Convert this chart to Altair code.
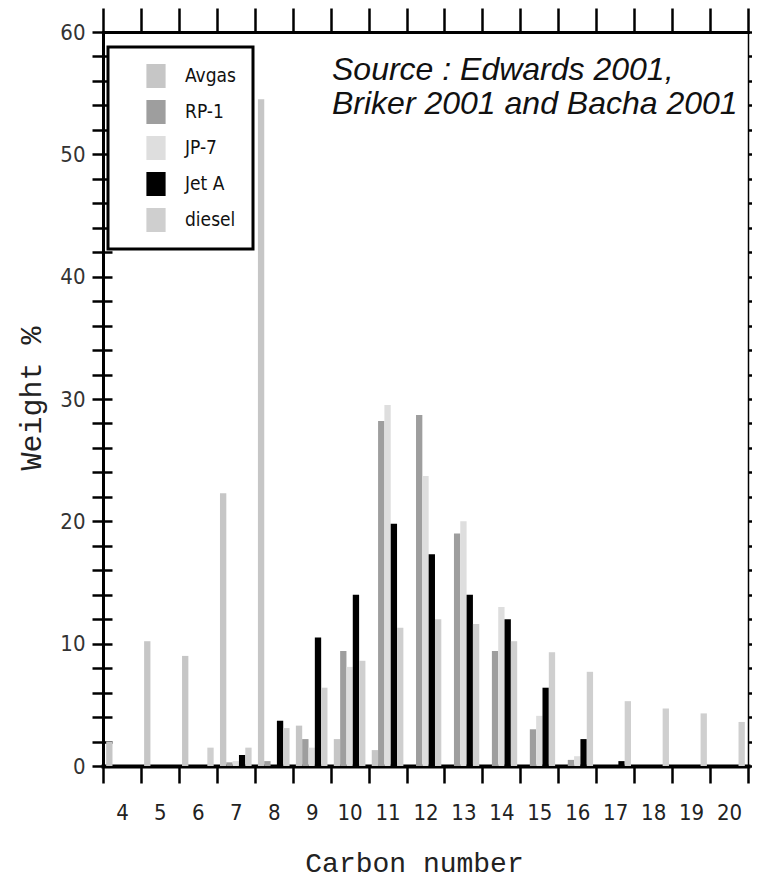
import altair as alt
import pandas as pd

carbon = [4, 5, 6, 7, 8, 9, 10, 11, 12, 13, 14, 15, 16, 17, 18, 19, 20]
fuels = ["Avgas", "RP-1", "JP-7", "Jet A", "diesel"]
avgas = [2.0, 10.2, 9.0, 22.3, 54.5, 3.3, 2.2, 1.3, 0, 0, 0, 0, 0, 0, 0, 0, 0]
rp1 = [0, 0, 0, 0.3, 0.4, 2.2, 9.4, 28.2, 28.7, 19.0, 9.4, 3.0, 0.5, 0, 0, 0, 0]
jp7 = [0, 0, 0, 0.4, 0, 1.5, 8.1, 29.5, 23.7, 20.0, 13.0, 4.1, 0.8, 0, 0, 0, 0]
jeta = [0, 0, 0, 0.9, 3.7, 10.5, 14.0, 19.8, 17.3, 14.0, 12.0, 6.4, 2.2, 0.4, 0, 0, 0]
diesel = [0, 0, 1.5, 1.5, 3.1, 6.4, 8.6, 11.3, 12.0, 11.6, 10.2, 9.3, 7.7, 5.3, 4.7, 4.3, 3.6]
colors = ["#c6c6c6", "#9e9e9e", "#dedede", "#000000", "#cfcfcf"]
y_ticks = list(range(0, 61, 2))
source_lines = ["Source : Edwards 2001,", "Briker 2001 and Bacha 2001"]

series = {"Avgas": avgas, "RP-1": rp1, "JP-7": jp7, "Jet A": jeta, "diesel": diesel}
rows = []
for f in fuels:
    for c, v in zip(carbon, series[f]):
        rows.append({"carbon": c, "fuel": f, "weight": v})
df = pd.DataFrame(rows)

narrow = "Liberation Sans Narrow, DejaVu Sans Condensed, Arial Narrow, sans-serif"
mono = "Liberation Mono, Courier New, monospace"

xscale = alt.Scale(paddingInner=0, paddingOuter=0)
yscale = alt.Scale(domain=[0, 60], nice=False)

bars = alt.Chart(df).mark_bar().encode(
    x=alt.X("carbon:O", sort=carbon, scale=xscale,
            axis=alt.Axis(orient="bottom", tickBand="extent", grid=False, tickSize=17, tickWidth=2.5,
                          tickColor="black", domainWidth=4, domainColor="black", domainCap="square",
                          labelAngle=0, labelFont=narrow, labelFontSize=22, labelColor="#222",
                          labelPadding=19, title="Carbon number", titleFont=mono,
                          titleFontSize=28, titleFontWeight="normal", titleColor="#222",
                          titleX=311, titleY=105, titleBaseline="alphabetic", titleAlign="center")),
    xOffset=alt.XOffset("fuel:N", sort=fuels, scale=alt.Scale(paddingInner=0, paddingOuter=0.5)),
    y=alt.Y("weight:Q", scale=yscale,
            axis=alt.Axis(orient="left", values=y_ticks, grid=False, tickSize=11, tickWidth=2.5,
                          tickColor="black", domainWidth=3, domainColor="black", domainCap="square",
                          labelExpr="datum.value % 10 === 0 ? datum.label : ''",
                          labelOverlap=False,
                          labelFont=narrow, labelFontSize=22, labelColor="#333", labelPadding=7,
                          title="Weight %", titleFont=mono, titleFontSize=30,
                          titleFontWeight="normal", titleColor="#222", titleAngle=270,
                          titleX=-63, titleY=366, titleBaseline="alphabetic", titleAlign="center")),
    color=alt.Color("fuel:N", sort=fuels, scale=alt.Scale(domain=fuels, range=colors),
                    legend=alt.Legend(title=None, orient="none", legendX=5, legendY=15,
                                      strokeColor="black", padding=17, fillColor="white",
                                      symbolType="M-0.8,-1H0.8V1H-0.8Z", symbolSize=576,
                                      symbolStrokeWidth=0, symbolOffset=19, labelOffset=17,
                                      rowPadding=12, labelFont=narrow, labelFontSize=19,
                                      labelColor="#111")),
)

frame_top = alt.Chart(df).mark_bar(opacity=0).encode(
    x=alt.X("carbon:O", sort=carbon, scale=xscale,
            axis=alt.Axis(orient="top", tickBand="extent", grid=False, labels=False, tickSize=24,
                          tickWidth=2.5, tickColor="black", domainWidth=3, domainColor="black",
                          domainCap="square", title=None)),
    y=alt.Y("weight:Q", scale=yscale,
            axis=alt.Axis(orient="left", offset=-9, values=y_ticks, grid=False, tickSize=9,
                          tickWidth=2.5, tickColor="black", domain=False, labels=False, title=None)),
)

frame_right = alt.Chart(df).mark_bar(opacity=0).encode(
    x=alt.X("carbon:O", sort=carbon, scale=xscale, axis=None),
    y=alt.Y("weight:Q", scale=yscale,
            axis=alt.Axis(orient="right", values=y_ticks, grid=False, tickSize=6, tickWidth=2.5,
                          tickColor="black", domainWidth=1.5, domainColor="black",
                          labels=False, title=None)),
)

note = alt.Chart(pd.DataFrame({"t": [0]})).mark_text(
    text=source_lines, font="Liberation Sans, Arial, sans-serif", fontStyle="italic",
    fontSize=32, lineHeight=34, align="left", baseline="alphabetic", color="#111",
).encode(x=alt.value(229), y=alt.value(48))

chart = alt.layer(bars, frame_top, frame_right, note).resolve_axis(
    x="independent", y="independent"
).properties(
    width=645, height=734,
    autosize=alt.AutoSizeParams(type="none"),
    padding={"left": 95, "top": 24, "right": 4, "bottom": 115},
).configure_view(stroke=None).configure_axis(grid=False).configure_legend(strokeWidth=3)

chart.save("out.html", embed_options={"renderer": "svg", "actions": False})
